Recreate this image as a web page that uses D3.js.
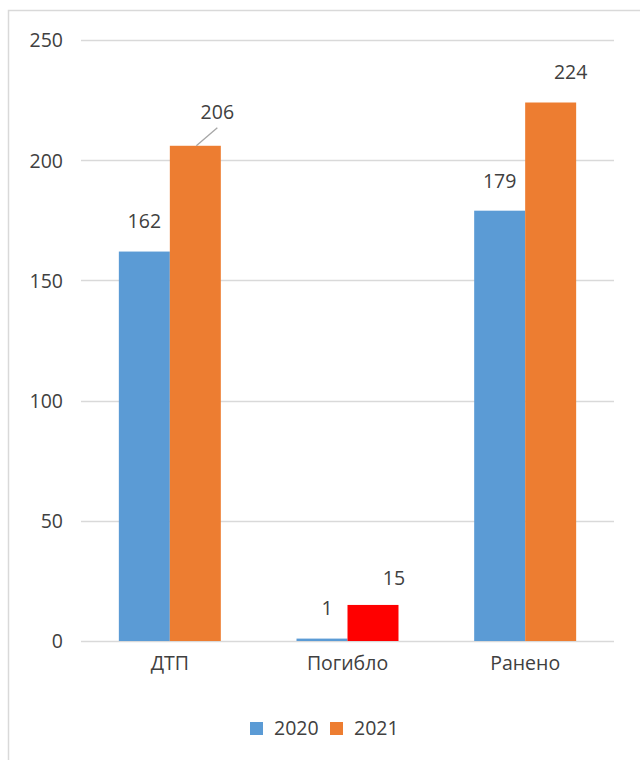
<!DOCTYPE html>
<html><head><meta charset="utf-8">
<script src="https://cdn.jsdelivr.net/npm/d3@7"></script>
<style>
html,body{margin:0;padding:0;background:#fff;}
svg{display:block;}
text{font-family:"Open Sans","Noto Sans",sans-serif;}
</style></head>
<body>
<script>
const categories = ["ДТП", "Погибло", "Ранено"];
const seriesNames = ["2020", "2021"];
const values2020 = [162, 1, 179];
const values2021 = [206, 15, 224];
const yTicks = [0, 50, 100, 150, 200, 250];

// layout / style (not data)
const seriesColors = ["#5b9bd5", "#ed7d31"];
const pointColorOverride = { "2021|Погибло": "#ff0000" };
const labelShift = { "2021|ДТП": [22, -34], "2021|Ранено": [20, -30], "2021|Погибло": [21, -27], "2020|Погибло": [5, -30] };
const FS = 19.5;

const W = 640, H = 760;
const svg = d3.select("body").append("svg").attr("width", W).attr("height", H);

// chart border (cropped)
svg.append("rect").attr("x", 8.5).attr("y", 10.5).attr("width", W + 20).attr("height", H + 20)
  .attr("fill", "#fff").attr("stroke", "#d9d9d9").attr("stroke-width", 1.5);

const plot = { left: 81, right: 614, top: 40, bottom: 641 };
const y = d3.scaleLinear().domain([0, 250]).range([plot.bottom, plot.top]);
const x0 = d3.scaleBand().domain(categories).range([plot.left, plot.right]).paddingInner(0.426).paddingOuter(0.213);
const x1 = d3.scaleBand().domain(seriesNames).range([0, x0.bandwidth()]);

// gridlines
svg.append("g").selectAll("line").data(yTicks).join("line")
  .attr("x1", plot.left).attr("x2", plot.right)
  .attr("y1", d => Math.round(y(d)) + 0.5).attr("y2", d => Math.round(y(d)) + 0.5)
  .attr("stroke", "#d9d9d9").attr("stroke-width", 1.5);

// y axis labels
const yAxis = d3.axisLeft(y).tickValues(yTicks).tickSize(0).tickPadding(0);
const gy = svg.append("g").attr("transform", `translate(63,0)`).call(yAxis);
gy.select(".domain").remove();
gy.selectAll("text").attr("font-size", FS).attr("fill", "#404040").attr("dy", "0.35em")
  .style("font-family", '"Open Sans","Noto Sans",sans-serif');

// x axis labels
const xAxis = d3.axisBottom(x0).tickSize(0).tickPadding(0);
const gx = svg.append("g").attr("transform", `translate(0,${plot.bottom})`).call(xAxis);
gx.select(".domain").remove();
gx.selectAll("text").attr("font-size", FS).attr("fill", "#404040").attr("dy", "29").attr("y", 0)
  .style("font-family", '"Open Sans","Noto Sans",sans-serif');

const series = [values2020, values2021];
const points = [];
series.forEach((vals, si) => vals.forEach((v, ci) => points.push({ s: seriesNames[si], si, c: categories[ci], v })));

// bars
svg.append("g").selectAll("rect").data(points).join("rect")
  .attr("x", d => x0(d.c) + x1(d.s))
  .attr("width", x1.bandwidth())
  .attr("y", d => y(d.v))
  .attr("height", d => y(0) - y(d.v))
  .attr("fill", d => pointColorOverride[d.s + "|" + d.c] || seriesColors[d.si]);

// data labels
const lbl = svg.append("g");
points.forEach(d => {
  const cx = x0(d.c) + x1(d.s) + x1.bandwidth() / 2;
  const sh = labelShift[d.s + "|" + d.c] || [0, -30];
  const lx = cx + sh[0], ly = y(d.v) + sh[1];
  if (d.s === "2021" && d.c === "ДТП") {
    lbl.append("line").attr("x1", cx + 1).attr("y1", y(d.v))
      .attr("x2", lx).attr("y2", ly + 16)
      .attr("stroke", "#a6a6a6").attr("stroke-width", 1.3);
  }
  lbl.append("text").attr("x", lx).attr("y", ly).attr("dy", "0.35em")
    .attr("text-anchor", "middle").attr("font-size", FS).attr("fill", "#404040").text(d.v);
});

// legend
const legendItems = [{ n: "2020", c: seriesColors[0], x: 250 }, { n: "2021", c: seriesColors[1], x: 330 }];
const lg = svg.append("g");
legendItems.forEach(it => {
  lg.append("rect").attr("x", it.x).attr("y", 722).attr("width", 13).attr("height", 13).attr("fill", it.c);
  lg.append("text").attr("x", it.x + 24).attr("y", 728.5).attr("dy", "0.35em")
    .attr("font-size", FS).attr("fill", "#404040").text(it.n);
});
</script>
</body></html>
